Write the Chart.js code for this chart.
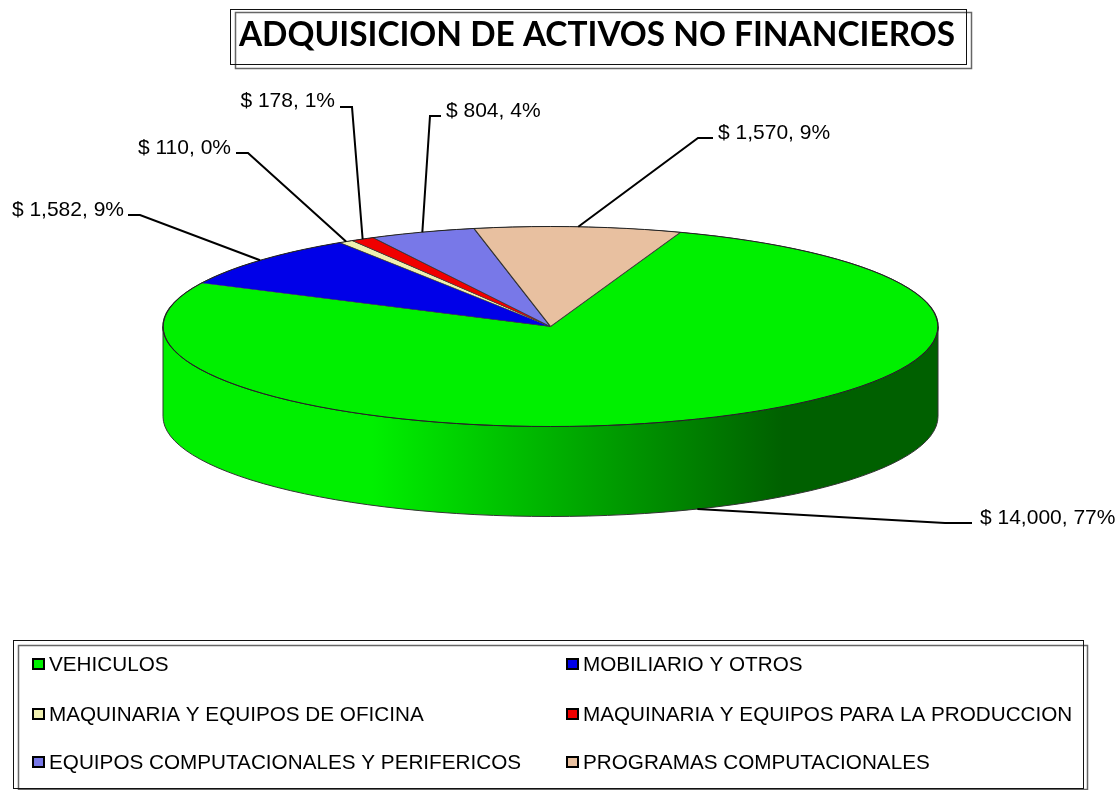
<!DOCTYPE html>
<html>
<head>
<meta charset="utf-8">
<style>html,body{margin:0;padding:0;background:#fff}canvas{display:block}</style>
<script src="https://cdn.jsdelivr.net/npm/chart.js@4"></script>
</head>
<body>
<canvas id="c" width="1120" height="790"></canvas>
<script>
const chartTitle = 'ADQUISICION DE ACTIVOS NO FINANCIEROS';
const categories = ['VEHICULOS','MOBILIARIO Y OTROS','MAQUINARIA Y EQUIPOS DE OFICINA','MAQUINARIA Y EQUIPOS PARA LA PRODUCCION','EQUIPOS COMPUTACIONALES Y PERIFERICOS','PROGRAMAS COMPUTACIONALES'];
const values = [14000,1582,110,178,804,1570];
const percents = [77,9,0,1,4,9];
const colors = ['#00F000','#0000E8','#F0F0B0','#F00000','#7878E8','#E8C0A0'];

// layout only
const PIE = {cx:550.5, cy:326.5, rx:387.5, ry:100, depth:90, rotation:19.6};
const CALLOUTS = [
  {tx:980, ty:518, align:'left',  elbow:[[972,523],[945,523]]},
  {tx:124, ty:210, align:'right', elbow:[[128,215],[140,215]]},
  {tx:231, ty:148, align:'right', elbow:[[236,153],[248,153]]},
  {tx:335, ty:101, align:'right', elbow:[[340,107],[352,107]]},
  {tx:446, ty:111, align:'left',  elbow:[[441,116],[430,116]]},
  {tx:718, ty:133, align:'left',  elbow:[[713,138],[698,138]]}
];
const LEGEND_CELLS = [[33,664],[567,664],[33,714],[567,714],[33,762],[567,762]];
const LABEL_FONT = '21px "Liberation Sans"';
const LEGEND_FONT = '20.7px "Liberation Sans"';

const fmt = v => '$ ' + v.toLocaleString('en-US');

function rect2(ctx, a, b){
  ctx.save();
  ctx.strokeStyle='#666'; ctx.lineWidth=1.5;
  ctx.strokeRect(b[0]+.5,b[1]+.5,b[2]-b[0],b[3]-b[1]);
  ctx.strokeStyle='#111'; ctx.lineWidth=1;
  ctx.strokeRect(a[0]+.5,a[1]+.5,a[2]-a[0],a[3]-a[1]);
  ctx.restore();
}

const pie3d = {
  id:'pie3d',
  beforeDraw(chart){
    // frames behind the title and legend
    rect2(chart.ctx,[230,9,966,64],[235,12,971,68]);
    rect2(chart.ctx,[13,640,1083,788],[18,645,1087,789]);
  },
  beforeDatasetsDraw(chart){
    const ctx = chart.ctx, arcs = chart.getDatasetMeta(0).data;
    const {cx,cy,rx,ry,depth} = PIE;
    arcs.forEach((arc,i)=>{
      const {startAngle,endAngle} = arc.getProps(['startAngle','endAngle'],true);
      for (const k of [-2*Math.PI,0,2*Math.PI]) {
        const a0 = Math.max(startAngle+k,0), a1 = Math.min(endAngle+k,Math.PI);
        if (a1<=a0) continue;
        const g = ctx.createLinearGradient(cx-rx,0,cx+rx,0);
        g.addColorStop(0,colors[i]);
        g.addColorStop(.27,colors[i]);
        g.addColorStop(.80,'#006000');
        g.addColorStop(1,'#006000');
        ctx.beginPath();
        ctx.ellipse(cx,cy,rx,ry,0,a0,a1);
        ctx.ellipse(cx,cy+depth,rx,ry,0,a1,a0,true);
        ctx.closePath();
        ctx.fillStyle=g; ctx.fill();
        ctx.strokeStyle='#333'; ctx.lineWidth=1; ctx.stroke();
      }
    });
    // squash the library's circular slices to the tilted ellipse
    const a = arcs[0];
    ctx.save();
    ctx.translate(cx,cy);
    ctx.scale(1,ry/rx);
    ctx.translate(-a.x,-a.y);
  },
  afterDatasetsDraw(chart){
    const ctx = chart.ctx, arcs = chart.getDatasetMeta(0).data;
    ctx.restore();
    const {cx,cy,rx,ry,depth} = PIE;
    // rim of the top face, unsquashed
    ctx.beginPath(); ctx.ellipse(cx,cy,rx,ry,0,0,2*Math.PI);
    ctx.strokeStyle='#222'; ctx.lineWidth=1; ctx.stroke();
    // leader lines and value labels
    arcs.forEach((arc,i)=>{
      const {startAngle,endAngle} = arc.getProps(['startAngle','endAngle'],true);
      const m = (startAngle+endAngle)/2;
      const front = Math.sin(m)>0;
      const ax = cx+rx*Math.cos(m), ay = cy+ry*Math.sin(m)+(front?depth:0);
      const c = CALLOUTS[i];
      ctx.beginPath();
      ctx.moveTo(c.elbow[0][0],c.elbow[0][1]);
      ctx.lineTo(c.elbow[1][0],c.elbow[1][1]);
      ctx.lineTo(ax,ay);
      ctx.strokeStyle='#000'; ctx.lineWidth=2; ctx.stroke();
      ctx.font=LABEL_FONT; ctx.fillStyle='#000';
      ctx.textAlign=c.align; ctx.textBaseline='middle';
      ctx.fillText(fmt(values[i])+', '+percents[i]+'%',c.tx,c.ty);
    });
    // legend
    categories.forEach((name,i)=>{
      const [x,y] = LEGEND_CELLS[i];
      ctx.fillStyle=colors[i];
      ctx.fillRect(x,y-5,11,10);
      ctx.strokeStyle='#000'; ctx.lineWidth=2;
      ctx.strokeRect(x,y-5,11,10);
      ctx.font=LEGEND_FONT; ctx.fillStyle='#000';
      ctx.textAlign='left'; ctx.textBaseline='middle';
      ctx.fillText(name,x+16,y+1);
    });
  }
};

new Chart(document.getElementById('c'),{
  type:'pie',
  data:{labels:categories,datasets:[{
    data:values,backgroundColor:colors,
    borderColor:'#333',borderWidth:1.4,radius:PIE.rx,rotation:PIE.rotation
  }]},
  options:{
    responsive:false,animation:false,
    layout:{padding:{left:74,top:15}},
    plugins:{
      legend:{display:false},tooltip:{enabled:false},
      title:{display:true,text:chartTitle,color:'#000',align:'center',
        font:{family:'Lato',size:33.4,weight:'bold'},padding:{top:0,bottom:0}}
    }
  },
  plugins:[pie3d]
});
</script>
</body>
</html>
